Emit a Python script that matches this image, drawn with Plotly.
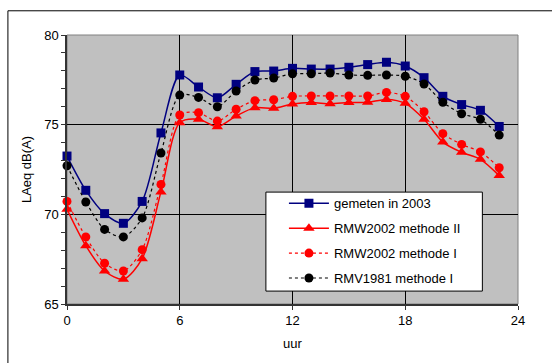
import plotly.graph_objects as go

hours = list(range(24))

gemeten_2003 = [73.25, 71.34, 70.04, 69.5, 70.72, 74.54, 77.77, 77.1, 76.5, 77.25,
                77.96, 77.99, 78.14, 78.1, 78.1, 78.2, 78.35, 78.48, 78.27, 77.62,
                76.58, 76.12, 75.8, 74.9]
rmw2002_m2 = [70.28, 68.25, 66.84, 66.38, 67.53, 71.25, 75.11, 75.3, 74.89, 75.48,
              75.95, 75.91, 76.15, 76.23, 76.17, 76.23, 76.25, 76.41, 76.19, 75.3,
              74.03, 73.46, 73.07, 72.16]
rmw2002_m1 = [70.72, 68.74, 67.27, 66.84, 68.03, 71.67, 75.54, 75.67, 75.2, 75.86,
              76.34, 76.39, 76.58, 76.6, 76.6, 76.6, 76.6, 76.8, 76.58, 75.72,
              74.5, 73.9, 73.48, 72.6]
rmv1981_m1 = [72.71, 70.69, 69.16, 68.74, 69.8, 73.42, 76.65, 76.52, 76.0, 76.88,
              77.49, 77.6, 77.84, 77.84, 77.88, 77.77, 77.75, 77.77, 77.7, 77.27,
              76.25, 75.61, 75.3, 74.42]

x_ticks = [0, 6, 12, 18, 24]
y_ticks = [65, 70, 75, 80]

series = [
    ("gemeten in 2003", gemeten_2003, "#000080", "solid", "square"),
    ("RMW2002 methode II", rmw2002_m2, "#FF0000", "solid", "triangle-up"),
    ("RMW2002 methode I", rmw2002_m1, "#FF0000", "dot", "circle"),
    ("RMV1981 methode I", rmv1981_m1, "#000000", "dot", "circle"),
]

fig = go.Figure()
for i, (name, vals, color, dash, symbol) in enumerate(series):
    fig.add_trace(go.Scatter(
        x=hours, y=vals, name=name, mode="lines+markers",
        line=dict(color=color, width=1.5 if dash == "solid" else 1.2,
                  dash=dash, shape="spline", smoothing=0.8),
        marker=dict(symbol=symbol, size=9 if symbol != "triangle-up" else 10,
                    color=color, line=dict(width=0)),
        legendgroup=f"g{i}",
        cliponaxis=False,
    ))

font = "Liberation Sans, Arial, sans-serif"

fig.update_layout(
    width=552, height=363,
    margin=dict(l=67, r=34, t=35, b=59),
    paper_bgcolor="white",
    plot_bgcolor="#C0C0C0",
    font=dict(family=font, size=13, color="black"),
    showlegend=True,
    legend=dict(
        x=0.481, y=0.43, xanchor="left", yanchor="top",
        bgcolor="rgba(0,0,0,0)", borderwidth=0,
        font=dict(family=font, size=13, color="black"),
        tracegroupgap=5, itemwidth=40,
    ),
    xaxis=dict(
        range=[0, 24], tickvals=x_ticks, ticks="outside", ticklen=4,
        tickcolor="#333333", showgrid=True, gridcolor="black", gridwidth=1,
        showline=True, linecolor="#333333", linewidth=1.5, zeroline=False,
        title=dict(text="uur", standoff=12, font=dict(size=13)),
        tickfont=dict(size=13),
    ),
    yaxis=dict(
        range=[65, 80], tickvals=y_ticks, ticks="outside", ticklen=4,
        tickcolor="#333333", showgrid=True, gridcolor="black", gridwidth=1,
        showline=True, linecolor="#333333", linewidth=1.5, zeroline=False,
        minor=dict(dtick=1, ticks="outside", ticklen=4, tickcolor="#333333",
                   showgrid=False),
        title=dict(text="LAeq dB(A)", standoff=10, font=dict(size=13)),
        tickfont=dict(size=13),
    ),
    shapes=[
        # grey border around the plot area (top and right edges)
        dict(type="rect", xref="paper", yref="paper", x0=0, y0=0, x1=1, y1=1,
             line=dict(color="#808080", width=1), layer="below"),
        # white legend box
        dict(type="rect", xref="paper", yref="paper", x0=0.441, y0=0.048,
             x1=0.921, y1=0.416, fillcolor="white",
             line=dict(color="black", width=1), layer="above"),
        # outer chart frame
        dict(type="rect", xref="paper", yref="paper", x0=-0.131, y0=-0.5,
             x1=1.5, y1=1.09, line=dict(color="black", width=1)),
    ],
)

fig.write_html("out.html")
